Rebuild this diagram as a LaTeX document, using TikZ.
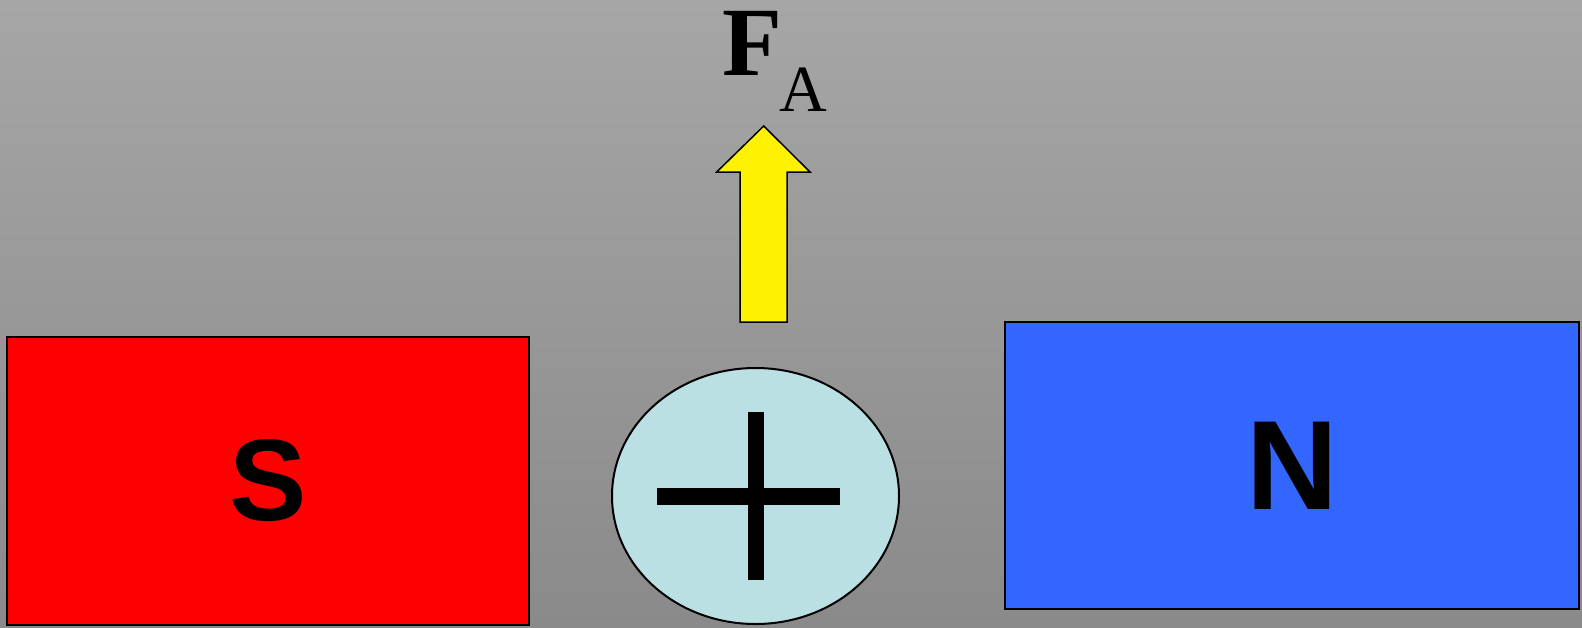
\documentclass[tikz,border=0pt]{standalone}
\usepackage{fontspec}
\setmainfont{Liberation Serif}
\newfontfamily\magfont{Liberation Sans}
\usetikzlibrary{shapes.geometric}
\definecolor{bgtop}{RGB}{166,166,166}
\definecolor{bgbot}{RGB}{138,138,138}
\definecolor{northblue}{RGB}{51,102,255}
\definecolor{wirecyan}{RGB}{187,224,228}
\begin{document}
\begin{tikzpicture}[x=1pt,y=-1pt,
	magnet/.style={draw=black,line width=2pt,inner sep=0pt}]
	\shade[top color=bgtop,bottom color=bgbot] (0,0) rectangle (1582,627);
	\useasboundingbox (0,0) rectangle (1582,627);
	
	\node[magnet,fill=red,minimum width=522pt,minimum height=288pt,font=\magfont\bfseries\fontsize{116}{116}\selectfont] (S) at (268,481) {S};
	\node[magnet,fill=northblue,minimum width=574pt,minimum height=287pt,font=\magfont\bfseries\fontsize{127}{127}\selectfont] (N) at (1292,465.5) {N};
	\node[shape=ellipse,draw=black,line width=2pt,fill=wirecyan,minimum width=287pt,minimum height=256pt,inner sep=0pt] (C) at (755.5,496) {};
	
	\fill[black] ([shift={(-98.5,-8.5)}]C.center) rectangle ([shift={(84.5,8.5)}]C.center);
	\fill[black] ([shift={(-8,-84)}]C.center) rectangle ([shift={(8,84)}]C.center);
	
	\draw[fill=yellow,line width=1.5pt,line join=miter] (763.7,126) -- (810,172) -- (787,172) -- (787,322) -- (740,322) -- (740,172) -- (716.7,172) -- cycle;
	\node[anchor=base west,inner sep=0pt,font=\fontsize{98}{98}\selectfont] (F) at (722,75) {\textbf{F}\kern-3pt\raisebox{-36pt}{\fontsize{66}{66}\selectfont A}};
\end{tikzpicture}
\end{document}
